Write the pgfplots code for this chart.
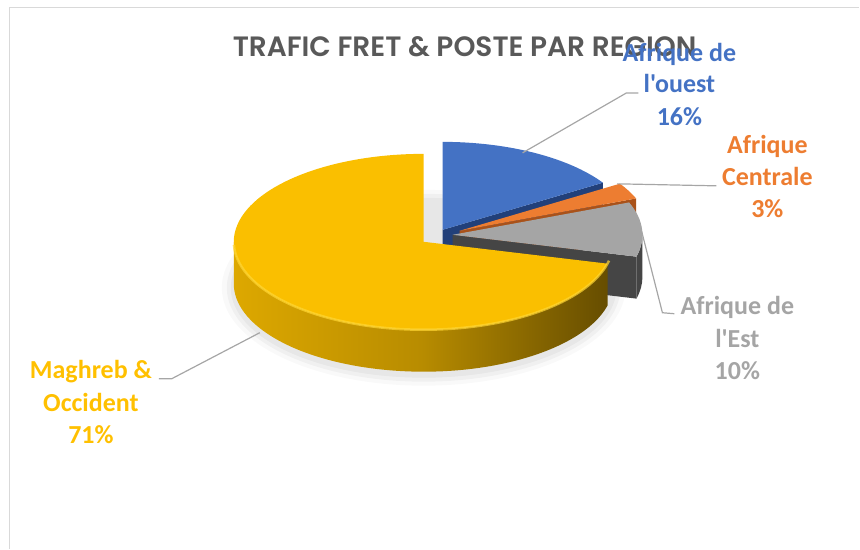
\documentclass[border=0pt]{standalone}
\usepackage{pgfplots}
\pgfplotsset{compat=1.18}
\usepackage{pgfplotstable}
\usetikzlibrary{calc}
\usepackage{fontspec}
\setmainfont{Carlito}[Ligatures=TeXOff]
\newfontfamily\titlefont{Poppins}[BoldFont={Poppins SemiBold}]

\definecolor{cBlue}{HTML}{4472C4}
\definecolor{cBlueD}{HTML}{22407A}
\definecolor{cOrange}{HTML}{ED7D31}
\definecolor{cOrangeD}{HTML}{A9521A}
\definecolor{cGray}{HTML}{A5A5A5}
\definecolor{cGrayD}{HTML}{454545}
\definecolor{cYellow}{HTML}{FABF00}
\definecolor{cYellowL}{HTML}{DDA800}
\definecolor{cYellowM}{HTML}{B88C00}
\definecolor{cYellowD}{HTML}{664D00}
\definecolor{cYellowRim}{HTML}{FFD633}
\definecolor{cTitle}{HTML}{595959}
\definecolor{cLine}{HTML}{A6A6A6}
\definecolor{cFrame}{HTML}{D9D9D9}
\definecolor{lBlue}{HTML}{4472C4}
\definecolor{lOrange}{HTML}{ED7D31}
\definecolor{lGray}{HTML}{A5A5A5}
\definecolor{lYellow}{HTML}{FFC000}

% share of each region (%), in drawing order (clockwise from 12 o'clock)
\pgfplotstableread{
region share
ouest 16
centrale 3
est 10
maghreb 71
}\pietable

\def\RX{190pt}
\def\RY{88pt}
\def\H{42pt}

\begin{document}
\begin{tikzpicture}
\pgfplotstablegetelem{0}{share}\of\pietable \pgfmathsetmacro\sA{\pgfplotsretval}
\pgfplotstablegetelem{1}{share}\of\pietable \pgfmathsetmacro\sB{\pgfplotsretval}
\pgfplotstablegetelem{2}{share}\of\pietable \pgfmathsetmacro\sC{\pgfplotsretval}
\pgfplotstablegetelem{3}{share}\of\pietable \pgfmathsetmacro\sD{\pgfplotsretval}
\pgfmathsetmacro\aA{90-3.6*\sA}
\pgfmathsetmacro\aB{\aA-3.6*\sB}
\pgfmathsetmacro\aC{\aB-3.6*\sC}
\pgfmathsetmacro\aD{\aC-3.6*\sD}
\pgfmathsetmacro\aAo{\aA+180}
\pgfmathsetmacro\aBo{\aB+180}
\pgfmathsetmacro\aCo{\aC+180}
\pgfmathsetmacro\aCs{\aC+2}
\begin{axis}[
  width=860pt, height=549pt, scale only axis,
  xmin=0, xmax=860, ymin=0, ymax=549,
  enlargelimits=false, hide axis, clip=false,
]
% full canvas
\path (axis cs:0,0) rectangle (axis cs:860,549);
% frame
\draw[cFrame, line width=1.5pt] (axis cs:9.5,0) -- (axis cs:9.5,541.7) -- (axis cs:860,541.7);

\coordinate (Y) at (axis cs:424,307);
\coordinate (B) at (axis cs:443,319);
\coordinate (O) at (axis cs:460,318);
\coordinate (G) at (axis cs:453,314);

% soft shadow
\fill[black, opacity=0.025] ($(Y)+(0pt,-46pt)$) ellipse[x radius=202pt, y radius=98pt];
\fill[black, opacity=0.035] ($(Y)+(0pt,-46pt)$) ellipse[x radius=197pt, y radius=94pt];
\fill[black, opacity=0.04] ($(Y)+(0pt,-46pt)$) ellipse[x radius=193pt, y radius=90pt];

% Afrique de l'ouest
\fill[cBlueD] (B) -- ++(\aA:190pt and 88pt) -- ++(0pt,-42pt) -- ++(\aAo:190pt and 88pt) -- cycle;
\fill[cBlue] (B) -- +(\aA:190pt and 88pt) arc[start angle=\aA, end angle=90, x radius=\RX, y radius=\RY] -- cycle;

% Afrique Centrale
\fill[cOrangeD] (O) -- ++(\aB:190pt and 88pt) -- ++(0pt,-42pt) -- ++(\aBo:190pt and 88pt) -- cycle;
\fill[cOrange] (O) -- +(\aB:190pt and 88pt) arc[start angle=\aB, end angle=\aA, x radius=\RX, y radius=\RY] -- cycle;

% Afrique de l'Est
\fill[cGrayD] (G) ++(\aC:190pt and 88pt) arc[start angle=\aC, end angle=0, x radius=\RX, y radius=\RY] -- ++(0pt,-42pt) arc[start angle=0, end angle=\aC, x radius=\RX, y radius=\RY] -- cycle;
\fill[cGrayD] (G) -- ++(\aC:190pt and 88pt) -- ++(0pt,-42pt) -- ++(\aCo:190pt and 88pt) -- cycle;
\fill[cGray] (G) -- +(\aC:190pt and 88pt) arc[start angle=\aC, end angle=\aB, x radius=\RX, y radius=\RY] -- cycle;

% Maghreb & Occident
\shade[left color=cYellowL, right color=cYellowD, middle color=cYellowM] (Y) ++(-180:190pt and 88pt) arc[start angle=-180, end angle=\aC, x radius=\RX, y radius=\RY] -- ++(0pt,-42pt) arc[start angle=\aC, end angle=-180, x radius=\RX, y radius=\RY] -- cycle;
\fill[cYellow] (Y) -- +(\aC:190pt and 88pt) arc[start angle=\aC, end angle=\aD, x radius=\RX, y radius=\RY] -- cycle;
\draw[cYellowRim, line width=2.5pt, opacity=0.7] (Y) ++(-178:190pt and 88pt) arc[start angle=-178, end angle=\aCs, x radius=\RX, y radius=\RY];

% leader lines
\addplot[cLine, line width=1.2pt, no marks] coordinates {(523,396) (627,456) (639,456)};
\addplot[cLine, line width=1.2pt, no marks] coordinates {(618,365) (717,363)};
\addplot[cLine, line width=1.2pt, no marks] coordinates {(639,330) (663,236) (675,235)};
\addplot[cLine, line width=1.2pt, no marks] coordinates {(260,216) (172,170) (159,170)};

% title
\node[anchor=base, text=cTitle, font=\titlefont\bfseries\fontsize{28}{34}\selectfont, inner sep=0pt] at (axis cs:465,492) {TRAFIC FRET \& POSTE PAR REGION};

% labels
\begin{scope}[every node/.style={anchor=base, inner sep=0pt, font=\bfseries\fontsize{26}{32}\selectfont}]
\node[text=lBlue] at (axis cs:680,487) {Afrique de};
\node[text=lBlue] at (axis cs:680,456) {l'ouest};
\node[text=lBlue] at (axis cs:680,423) {16\%};
\node[text=lOrange] at (axis cs:768,395) {Afrique};
\node[text=lOrange] at (axis cs:768,363) {Centrale};
\node[text=lOrange] at (axis cs:768,331) {3\%};
\node[text=lGray] at (axis cs:738,234) {Afrique de};
\node[text=lGray] at (axis cs:738,201) {l'Est};
\node[text=lGray] at (axis cs:738,169) {10\%};
\node[text=lYellow] at (axis cs:91,170) {Maghreb \&};
\node[text=lYellow] at (axis cs:91,137) {Occident};
\node[text=lYellow] at (axis cs:91,105) {71\%};
\end{scope}
\end{axis}
\end{tikzpicture}
\end{document}
